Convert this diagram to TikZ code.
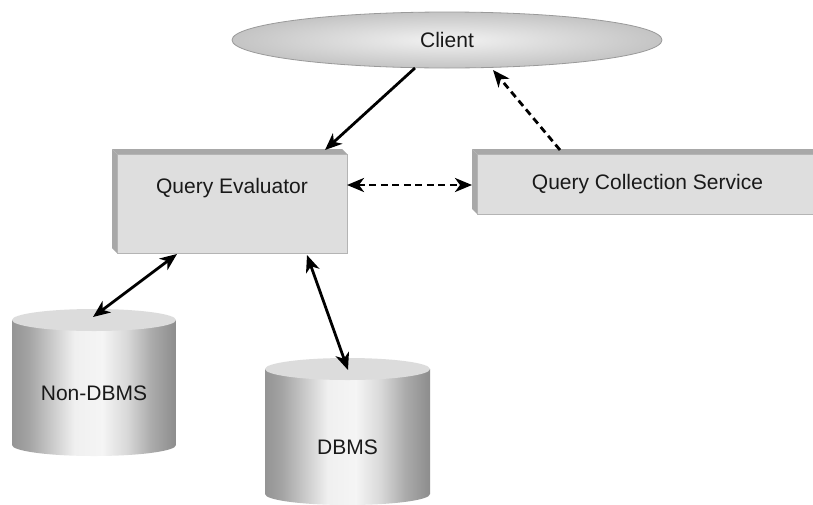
\documentclass[tikz,border=0pt]{standalone}
\usepackage{fontspec}
\setmainfont{Liberation Sans}
\usetikzlibrary{arrows.meta,shapes.geometric}

\definecolor{facegray}{HTML}{DEDEDE}
\definecolor{bevelgray}{HTML}{A8A8A8}
\definecolor{boxedge}{HTML}{B4B4B4}
\definecolor{ovaledge}{HTML}{9A9A9A}
\definecolor{ovalin}{HTML}{F2F2F2}
\definecolor{ovalout}{HTML}{C4C4C4}
\definecolor{drumtop}{HTML}{DCDCDC}

% side of a drum: dark rims, bright band left of the middle
\pgfdeclarehorizontalshading{drumside}{100bp}{%
  color(0bp)=(black!42); color(25bp)=(black!42);
  color(30bp)=(black!36); color(37.5bp)=(black!20);
  color(44bp)=(black!6); color(52.5bp)=(black!4);
  color(60bp)=(black!15); color(67.5bp)=(black!33);
  color(75bp)=(black!45); color(100bp)=(black!45)}

\tikzset{
  lbl/.style={font=\fontsize{21pt}{25pt}\selectfont, text=black!90},
  % raised box: light face with a darker bevel on the top and left
  qbox/.style={lbl, rectangle, draw=boxedge, line width=0.8pt, fill=facegray,
    inner sep=0pt, outer sep=0pt,
    append after command={\pgfextra{\begin{pgfinterruptpath}
      \fill[bevelgray] (\tikzlastnode.north west) -- ++(-5,-5)
        -- ([shift={(-5,-5)}]\tikzlastnode.north east)
        -- (\tikzlastnode.north east) -- cycle;
      \fill[bevelgray] (\tikzlastnode.north west) -- ++(-5,-5)
        -- ([shift={(-5,-5)}]\tikzlastnode.south west)
        -- (\tikzlastnode.south west) -- cycle;
    \end{pgfinterruptpath}}}},
  oval/.style={lbl, ellipse, draw=ovaledge, line width=0.8pt,
    inner color=ovalin, outer color=ovalout, inner sep=0pt, outer sep=0pt},
  drumlabel/.style={lbl, rectangle, inner sep=0pt, outer sep=0pt, text depth=0pt},
  drumbody/.style={shading=drumside},
  drumlid/.style={fill=drumtop},
  link/.style={line width=2.8pt, draw=black,
    >={Stealth[length=17pt,width=14pt,inset=5pt]}},
  solidone/.style={link, ->},
  solidtwo/.style={link, <->},
  dashone/.style={link, dash pattern=on 7pt off 4.5pt, ->},
  dashtwo/.style={link, dash pattern=on 7pt off 4.5pt, <->},
}

\begin{document}
\begin{tikzpicture}[x=1pt,y=-1pt]
\useasboundingbox (0,0) rectangle (813,504);
\fill[white] (0,0) rectangle (813,504);

% drums
\shade[drumbody] (12,320) -- (12,445)
  arc[start angle=180, end angle=0, x radius=82, y radius=11] -- (176,320) -- cycle;
\fill[drumlid] (94,320) ellipse[x radius=82, y radius=11];
\shade[drumbody] (265,369) -- (265,494)
  arc[start angle=180, end angle=0, x radius=82.5, y radius=11] -- (430,369) -- cycle;
\fill[drumlid] (347.5,369) ellipse[x radius=82.5, y radius=11];

% nodes
\node[oval, minimum width=430pt, minimum height=56pt] (client) at (447,40) {Client};
\node[qbox, minimum width=230pt, minimum height=99pt, text height=15pt, text depth=35pt]
  (qe) at (232,203.5) {Query Evaluator};
\node[qbox, minimum width=341pt, minimum height=60pt] (qcs) at (647.5,184)
  {Query Collection Service};
\node[drumlabel, minimum width=164pt, minimum height=147pt, text height=38pt]
  (nondbms) at (94,381.5) {Non-DBMS};
\node[drumlabel, minimum width=165pt, minimum height=147pt, text height=46pt]
  (dbms) at (347.5,431.5) {DBMS};

% connectors
\draw[solidone] ([xshift=-32pt]client.south) -- ([shift={(-22,-4)}]qe.north east);
\draw[dashone] ([shift={(83,-4)}]qcs.north west) -- ([shift={(46,2)}]client.south);
\draw[dashtwo] ([shift={(0,-18.5)}]qe.east) -- ([shift={(-5,1)}]qcs.west);
\draw[solidtwo] ([shift={(60,1)}]qe.south west) -- ([shift={(-1,9)}]nondbms.north);
\draw[solidtwo] ([shift={(-40,2)}]qe.south east) -- ([shift={(0.5,12)}]dbms.north);
\end{tikzpicture}
\end{document}
